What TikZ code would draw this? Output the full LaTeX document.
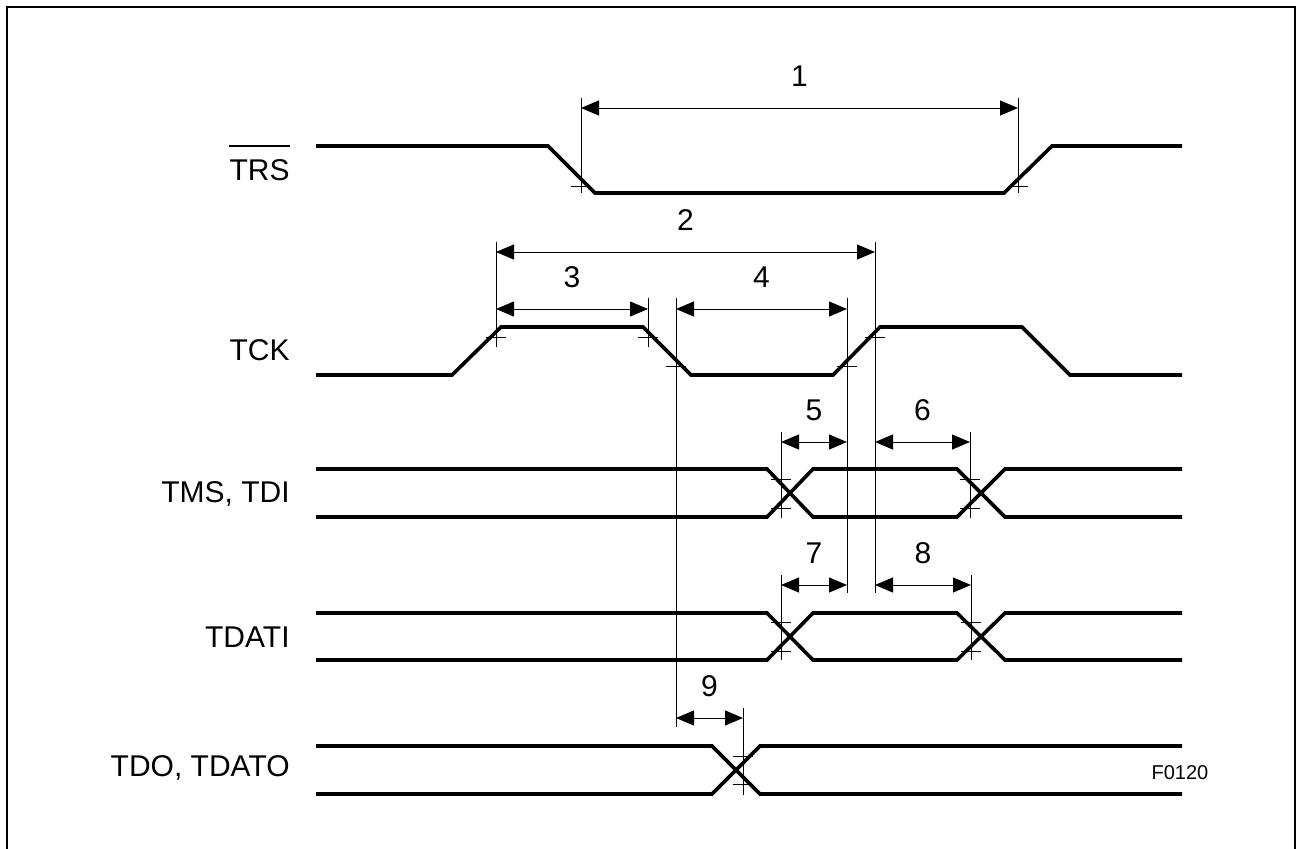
\documentclass[tikz,border=0pt]{standalone}
\usepackage{fontspec}
\setmainfont{Liberation Sans}
\usetikzlibrary{arrows.meta}

\begin{document}
\begin{tikzpicture}[
    x=0.5pt, y=-0.5pt,
    sig/.style={line width=1.8pt, line join=miter},
    ext/.style={line width=0.5pt},
    dim/.style={line width=0.5pt, <->},
    lbl/.style={anchor=east, inner sep=0pt, font=\fontsize{15}{18}\selectfont},
    num/.style={above=10.5pt, inner sep=0pt, font=\fontsize{15}{18}\selectfont},
    >={Triangle[length=9pt,width=7.5pt]}
]
    \useasboundingbox (0,0) rectangle (1298,848);

    % Frame
    \draw[line width=0.9pt] (7,870) -- (7,7) -- (1295,7) -- (1295,870);

    % Signal names
    \node[lbl] (lTRS) at (290,170) {TRS};
    \coordinate (bar) at (0,146);
    \draw[line width=0.6pt] (lTRS.west |- bar) -- (lTRS.east |- bar);
    \node[lbl] (lTCK) at (290,350) {TCK};
    \node[lbl] (lTMS) at (290,494) {TMS, TDI};
    \node[lbl] (lTDATI) at (290,637) {TDATI};
    \node[lbl] (lTDO) at (290,768) {TDO, TDATO};

    % TRS
    \draw[sig] (316,146) -- (548,146) -- (595,193) -- (1004,193) -- (1052,146) -- (1182,146);

    % TCK
    \draw[sig] (316,375) -- (452,375) -- (501,327) -- (643,327) -- (691,375)
        -- (833,375) -- (880,327) -- (1022,327) -- (1070,375) -- (1182,375);

    % TMS, TDI
    \draw[sig] (316,469) -- (767,469) -- (813,517) -- (957,517) -- (1005,469) -- (1182,469);
    \draw[sig] (316,517) -- (767,517) -- (813,469) -- (957,469) -- (1005,517) -- (1182,517);

    % TDATI
    \draw[sig] (316,613) -- (767,613) -- (813,660) -- (957,660) -- (1005,613) -- (1182,613);
    \draw[sig] (316,660) -- (767,660) -- (813,613) -- (957,613) -- (1005,660) -- (1182,660);

    % TDO, TDATO
    \draw[sig] (316,746) -- (712,746) -- (760,794) -- (1182,794);
    \draw[sig] (316,794) -- (712,794) -- (760,746) -- (1182,746);

    % Extension lines
    \coordinate (e1t) at (581,98);   \coordinate (e1b) at (581,193);
    \coordinate (e2t) at (1018,98);  \coordinate (e2b) at (1018,193);
    \coordinate (e3t) at (496,242);  \coordinate (e3b) at (496,347);
    \coordinate (e4t) at (648,298);  \coordinate (e4b) at (648,347);
    \coordinate (e5t) at (676,298);  \coordinate (e5b) at (676,727);
    \coordinate (e6t) at (847,298);  \coordinate (e6b) at (847,593);
    \coordinate (e7t) at (875,242);  \coordinate (e7b) at (875,593);
    \coordinate (e8t) at (781,432);  \coordinate (e8b) at (781,518);
    \coordinate (e9t) at (970,432);  \coordinate (e9b) at (970,518);
    \coordinate (e10t) at (781,575); \coordinate (e10b) at (781,660);
    \coordinate (e11t) at (971,575); \coordinate (e11b) at (971,660);
    \coordinate (e12t) at (743,708); \coordinate (e12b) at (743,795);
    \foreach \e in {1,...,12}
        \draw[ext] (e\e t) -- (e\e b);

    % Level marks
    \foreach \x/\y in {581/186, 1018/186, 496/337, 648/337, 676/366, 847/366, 875/337,
        781/479, 781/508, 970/479, 970/508, 781/622, 781/651, 971/622, 971/651,
        743/756, 743/784}
        \draw[ext] (\x-10,\y) -- (\x+10,\y);

    % Timing arrows
    \coordinate (d1) at (e1t |- 0,108);  \coordinate (d1e) at (e2t |- 0,108);
    \coordinate (d2) at (e3t |- 0,252);  \coordinate (d2e) at (e7t |- 0,252);
    \coordinate (d3) at (e3t |- 0,309);  \coordinate (d3e) at (e4t |- 0,309);
    \coordinate (d4) at (e5t |- 0,309);  \coordinate (d4e) at (e6t |- 0,309);
    \coordinate (d5) at (e8t |- 0,442);  \coordinate (d5e) at (e6t |- 0,442);
    \coordinate (d6) at (e7t |- 0,442);  \coordinate (d6e) at (e9t |- 0,442);
    \coordinate (d7) at (e10t |- 0,585); \coordinate (d7e) at (e6t |- 0,585);
    \coordinate (d8) at (e7t |- 0,585);  \coordinate (d8e) at (e11t |- 0,585);
    \coordinate (d9) at (e5t |- 0,718);  \coordinate (d9e) at (e12t |- 0,718);
    \foreach \d in {1,...,9}
        \draw[dim] (d\d) -- node[num] (t\d) {\d} (d\d e);

    % Figure number
    \node[inner sep=0pt, font=\fontsize{10}{12}\selectfont] (fig) at (1180,773) {F0120};
\end{tikzpicture}
\end{document}
